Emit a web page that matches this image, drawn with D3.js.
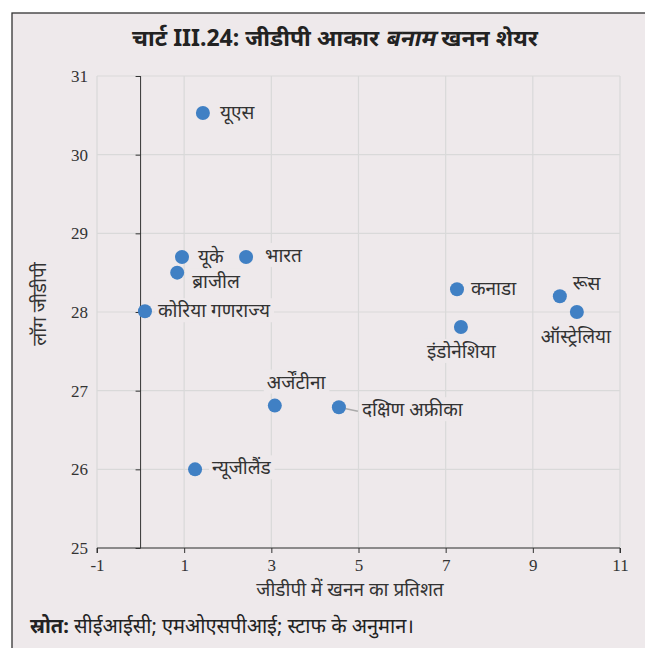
<!DOCTYPE html>
<html>
<head>
<meta charset="utf-8">
<script src="https://cdn.jsdelivr.net/npm/d3@7"></script>
<style>
  body { margin: 0; background: #fff; }
  svg text { font-family: "Noto Sans", "Noto Sans Devanagari", sans-serif; fill: #222; }
  .tick text { font-family: "Liberation Serif", "DejaVu Serif", serif; font-size: 17px; fill: #333; }
</style>
</head>
<body>
<div id="chart"></div>
<script>
// देश, खनन का हिस्सा (% जीडीपी), लॉग जीडीपी
const countries = ["यूएस", "यूके", "भारत", "ब्राजील", "कोरिया गणराज्य", "अर्जेंटीना",
  "दक्षिण अफ्रीका", "न्यूजीलैंड", "कनाडा", "इंडोनेशिया", "रूस", "ऑस्ट्रेलिया"];
const miningShare = [1.43, 0.95, 2.42, 0.84, 0.10, 3.08, 4.55, 1.25, 7.26, 7.35, 9.62, 10.01];
const logGdp = [30.53, 28.70, 28.70, 28.50, 28.01, 26.81, 26.79, 26.00, 28.29, 27.81, 28.20, 28.00];

const xTicks = [-1, 1, 3, 5, 7, 9, 11];
const yTicks = [25, 26, 27, 28, 29, 30, 31];

const W = 645, H = 648;
const margin = { top: 76, right: 25, bottom: 100, left: 97 };
const width = W - margin.left - margin.right,
  height = H - margin.top - margin.bottom;
const bg = "#eee9eb";

const svg = d3.select("#chart").append("svg")
  .attr("width", W).attr("height", H);

// पैनल
svg.append("rect")
  .attr("x", 12).attr("y", 13).attr("width", W).attr("height", H)
  .attr("fill", bg).attr("stroke", "#333").attr("stroke-width", 1.3);

// शीर्षक (बनाम तिरछा)
const titleParts = [["चार्ट III.24: जीडीपी आकार ", false], ["बनाम", true], [" खनन शेयर", false]];
const title = svg.append("g");
let tx = 0;
titleParts.forEach(([s, it]) => {
  const t = title.append("text").attr("y", 50)
    .style("font-size", "23px").style("font-weight", "bold")
    .style("white-space", "pre").attr("xml:space", "preserve")
    .text(s);
  const w = t.node().getComputedTextLength();
  if (it) t.attr("transform", `translate(${tx},0) skewX(-12) translate(${50 * Math.tan(12 * Math.PI / 180)},0)`);
  else t.attr("x", tx);
  tx += w;
});
title.attr("transform", `translate(${335 - tx / 2},-4)`);

const g = svg.append("g").attr("transform", `translate(${margin.left},${margin.top})`);

const x = d3.scaleLinear().domain([-1, 11]).range([0, width]);
const y = d3.scaleLinear().domain([25, 31]).range([height, 0]);

// ग्रिड
g.append("g").selectAll("line").data(yTicks).join("line")
  .attr("x1", 0).attr("x2", width)
  .attr("y1", d => y(d)).attr("y2", d => y(d))
  .attr("stroke", "#d9d9d9").attr("stroke-width", 1.2);
g.append("g").selectAll("line").data(xTicks).join("line")
  .attr("y1", 0).attr("y2", height)
  .attr("x1", d => x(d)).attr("x2", d => x(d))
  .attr("stroke", "#d9d9d9").attr("stroke-width", 1.2);

// x अक्ष
const xAxis = g.append("g").attr("transform", `translate(0,${height})`)
  .call(d3.axisBottom(x).tickValues(xTicks).tickSize(5).tickPadding(6).tickFormat(d => String(d)));
xAxis.select(".domain").attr("stroke", "#333").attr("d", `M0,5V0H${width}V5`);
xAxis.selectAll(".tick line").attr("stroke", "#333");

// y अक्ष x=0 पर
const yAxis = g.append("g").attr("transform", `translate(${x(0)},0)`)
  .call(d3.axisLeft(y).tickValues(yTicks).tickSize(5).tickFormat(d => String(d)));
yAxis.select(".domain").attr("stroke", "#333").attr("d", `M0,0V${height}`);
yAxis.selectAll(".tick line").attr("stroke", "#333");
yAxis.selectAll(".tick text").attr("x", x(-1) - x(0) - 9);

// अक्ष शीर्षक
svg.append("text")
  .attr("x", 350).attr("y", 596)
  .attr("text-anchor", "middle").style("font-size", "19px").style("fill", "#333")
  .text("जीडीपी में खनन का प्रतिशत");
svg.append("text")
  .attr("transform", `translate(46,${margin.top + height / 2 - 8}) rotate(-90)`)
  .attr("text-anchor", "middle").style("font-size", "19px").style("fill", "#333")
  .text("लॉग जीडीपी");

// बिंदु और लेबल
const data = countries.map((c, i) => ({ name: c, x: miningShare[i], y: logGdp[i] }));

// लेबल का खिसकाव [dx, dy]
const offsets = {
  "यूएस": [17, 6], "यूके": [16, 6], "भारत": [19, 5], "ब्राजील": [15, 15],
  "कोरिया गणराज्य": [13, 6], "अर्जेंटीना": [-8, -17], "दक्षिण अफ्रीका": [23, 9],
  "न्यूजीलैंड": [17, 5], "कनाडा": [14, 6], "इंडोनेशिया": [-34, 31],
  "रूस": [13, -6], "ऑस्ट्रेलिया": [-36, 31]
};

const labels = g.append("g");
const dots = g.append("g");

data.forEach(d => {
  const [dx, dy] = offsets[d.name];
  const t = labels.append("text")
    .attr("x", x(d.x) + dx).attr("y", y(d.y) + dy)
    .style("font-size", "19px").style("fill", "#333")
    .text(d.name);
  const bb = t.node().getBBox();
  labels.insert("rect", "text")
    .attr("x", bb.x - 3).attr("y", bb.y + 1)
    .attr("width", bb.width + 6).attr("height", bb.height - 2)
    .attr("fill", bg);
  if (d.name === "दक्षिण अफ्रीका") {
    labels.append("line")
      .attr("x1", x(d.x)).attr("y1", y(d.y))
      .attr("x2", x(d.x) + 19).attr("y2", y(d.y) + 4)
      .attr("stroke", "#aaa").attr("stroke-width", 1.5);
  }
});

dots.selectAll("circle").data(data).join("circle")
  .attr("cx", d => x(d.x)).attr("cy", d => y(d.y))
  .attr("r", 7).attr("fill", "#4080c4");

// स्रोत
const src = svg.append("text").attr("x", 30).attr("y", 633).style("font-size", "20px").style("fill", "#222");
src.append("tspan").style("font-weight", "bold").text("स्रोत:");
src.append("tspan").text(" सीईआईसी; एमओएसपीआई; स्टाफ के अनुमान।");
</script>
</body>
</html>
